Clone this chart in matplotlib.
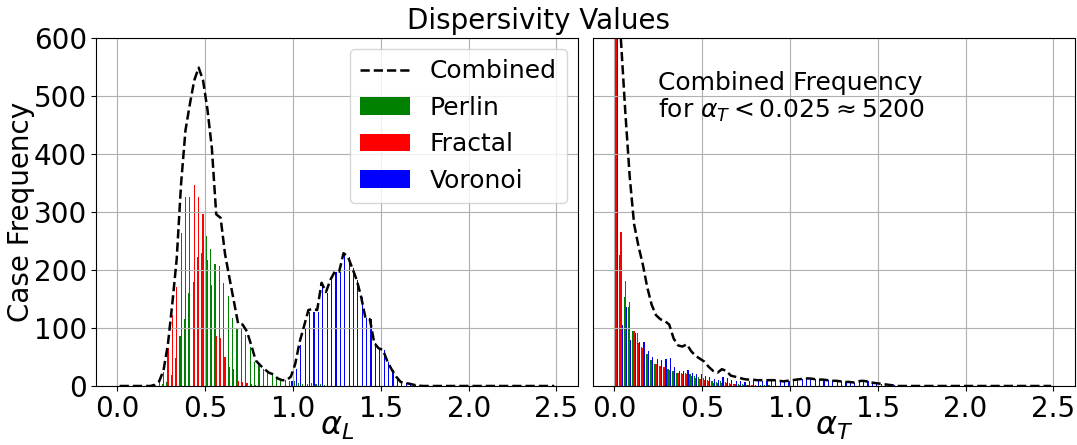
import numpy as np
import matplotlib
matplotlib.use("Agg")
import matplotlib.pyplot as plt

# Histogram bins: 100 bins of width 0.025 spanning 0 .. 2.5
bin_edges = np.linspace(0.0, 2.5, 101)
bin_centers = 0.5 * (bin_edges[:-1] + bin_edges[1:])

# Longitudinal dispersivity (alpha_L) case counts per bin
perlin_L = [
    0, 0, 0, 0, 0, 0, 0, 0, 0, 0,
    3, 7, 19, 48, 86, 115, 160, 180, 223, 230,
    259, 237, 210, 207, 178, 155, 118, 99, 99, 88,
    67, 42, 36, 29, 23, 20, 13, 10, 10, 8,
    8, 5, 4, 3, 5, 3, 4, 2, 0, 0,
    0, 0, 0, 0, 0, 0, 0, 0, 0, 0,
    0, 0, 0, 0, 0, 0, 0, 0, 0, 0,
    0, 0, 0, 0, 0, 0, 0, 0, 0, 0,
    0, 0, 0, 0, 0, 0, 0, 0, 0, 0,
    0, 0, 0, 0, 0, 0, 0, 0, 0, 0,
]
fractal_L = [
    0, 0, 0, 0, 0, 0, 0, 0, 2, 8,
    24, 65, 123, 171, 263, 326, 326, 347, 326, 297,
    218, 174, 86, 83, 50, 32, 29, 8, 7, 6,
    3, 2, 0, 0, 0, 0, 0, 0, 0, 0,
    0, 0, 0, 0, 0, 0, 0, 0, 0, 0,
    0, 0, 0, 0, 0, 0, 0, 0, 0, 0,
    0, 0, 0, 0, 0, 0, 0, 0, 0, 0,
    0, 0, 0, 0, 0, 0, 0, 0, 0, 0,
    0, 0, 0, 0, 0, 0, 0, 0, 0, 0,
    0, 0, 0, 0, 0, 0, 0, 0, 0, 0,
]
voronoi_L = [
    0, 0, 0, 0, 0, 0, 0, 0, 0, 0,
    0, 0, 0, 0, 0, 0, 0, 0, 0, 0,
    0, 0, 0, 0, 0, 0, 0, 0, 0, 0,
    0, 0, 0, 0, 0, 0, 0, 0, 0, 8,
    30, 71, 99, 128, 128, 128, 174, 160, 183, 197,
    197, 229, 223, 203, 183, 154, 117, 115, 74, 65,
    62, 42, 28, 16, 7, 5, 4, 2, 1, 0,
    0, 0, 0, 0, 0, 0, 0, 0, 0, 0,
    0, 0, 0, 0, 0, 0, 0, 0, 0, 0,
    0, 0, 0, 0, 0, 0, 0, 0, 0, 0,
]

# Transverse dispersivity (alpha_T) case counts per bin
perlin_T = [
    1750, 226, 154, 137, 94, 91, 68, 55, 45, 38,
    35, 33, 30, 25, 22, 22, 23, 20, 17, 15,
    14, 10, 8, 7, 8, 7, 5, 4, 3, 3,
    2, 2, 2, 1, 1, 1, 0, 0, 0, 0,
    0, 0, 0, 0, 0, 0, 0, 0, 0, 0,
    0, 0, 0, 0, 0, 0, 0, 0, 0, 0,
    0, 0, 0, 0, 0, 0, 0, 0, 0, 0,
    0, 0, 0, 0, 0, 0, 0, 0, 0, 0,
    0, 0, 0, 0, 0, 0, 0, 0, 0, 0,
    0, 0, 0, 0, 0, 0, 0, 0, 0, 0,
]
fractal_T = [
    1950, 266, 181, 145, 94, 74, 65, 55, 45, 38,
    35, 32, 28, 25, 22, 20, 21, 17, 14, 12,
    10, 8, 6, 5, 6, 5, 3, 3, 2, 2,
    1, 1, 0, 0, 0, 0, 0, 0, 0, 0,
    0, 0, 0, 0, 0, 0, 0, 0, 0, 0,
    0, 0, 0, 0, 0, 0, 0, 0, 0, 0,
    0, 0, 0, 0, 0, 0, 0, 0, 0, 0,
    0, 0, 0, 0, 0, 0, 0, 0, 0, 0,
    0, 0, 0, 0, 0, 0, 0, 0, 0, 0,
    0, 0, 0, 0, 0, 0, 0, 0, 0, 0,
]
voronoi_T = [
    1500, 105, 137, 79, 91, 76, 76, 60, 50, 46,
    45, 47, 48, 32, 26, 26, 28, 23, 21, 20,
    18, 15, 12, 11, 15, 14, 10, 9, 9, 7,
    8, 8, 8, 9, 9, 9, 10, 9, 8, 9,
    10, 11, 12, 13, 13, 12, 11, 11, 10, 9,
    9, 8, 7, 7, 6, 8, 9, 8, 6, 5,
    4, 3, 2, 1, 0, 0, 0, 0, 0, 0,
    0, 0, 0, 0, 0, 0, 0, 0, 0, 0,
    0, 0, 0, 0, 0, 0, 0, 0, 0, 0,
    0, 0, 0, 0, 0, 0, 0, 0, 0, 0,
]

series_labels = ["Perlin", "Fractal", "Voronoi"]
series_colors = ["green", "red", "blue"]
x_ticks = [0.0, 0.5, 1.0, 1.5, 2.0, 2.5]
y_ticks = [0, 100, 200, 300, 400, 500, 600]
combined_T_first_bin = 5200

fig, (ax_l, ax_t) = plt.subplots(1, 2, figsize=(10.77, 4.45), dpi=100, sharey=True)
fig.subplots_adjust(left=0.0891, right=0.998, bottom=0.1326, top=0.9146, wspace=0.031)


def draw_panel(ax, p, f, v):
    ax.hist([bin_centers, bin_centers, bin_centers], bins=bin_edges,
            weights=[p, f, v], color=series_colors, label=series_labels)
    combined = np.asarray(p) + np.asarray(f) + np.asarray(v)
    ax.plot(bin_centers, combined, "k--", lw=1.8, label="Combined")
    ax.grid(True)
    ax.set_xticks(x_ticks)
    ax.set_xticklabels([f"{t:.1f}" for t in x_ticks])
    ax.tick_params(labelsize=20, pad=3)


draw_panel(ax_l, perlin_L, fractal_L, voronoi_L)
draw_panel(ax_t, perlin_T, fractal_T, voronoi_T)

ax_l.set_ylim(0, 600)
ax_l.set_yticks(y_ticks)
ax_l.set_ylabel("Case Frequency", fontsize=20, labelpad=-1)
ax_l.set_xlabel(r"$\alpha_L$", fontsize=23, labelpad=-9)
ax_t.set_xlabel(r"$\alpha_T$", fontsize=23, labelpad=-9)
ax_t.tick_params(axis="y", left=False, labelleft=False)

handles, labels = ax_l.get_legend_handles_labels()
order = [labels.index(n) for n in ["Combined"] + series_labels]
ax_l.legend([handles[i] for i in order], [labels[i] for i in order],
            loc="upper right", fontsize=18, handlelength=2.0, handletextpad=0.8,
            borderaxespad=0.45)

ax_t.text(0.135, 0.905,
          "Combined Frequency\n" + r"for $\alpha_T < 0.025 \approx$" + f"{combined_T_first_bin}",
          transform=ax_t.transAxes, fontsize=18, va="top", ha="left",
          linespacing=1.1)

fig.suptitle("Dispersivity Values", fontsize=20, y=0.985)

fig.savefig("out.png", dpi=100)
